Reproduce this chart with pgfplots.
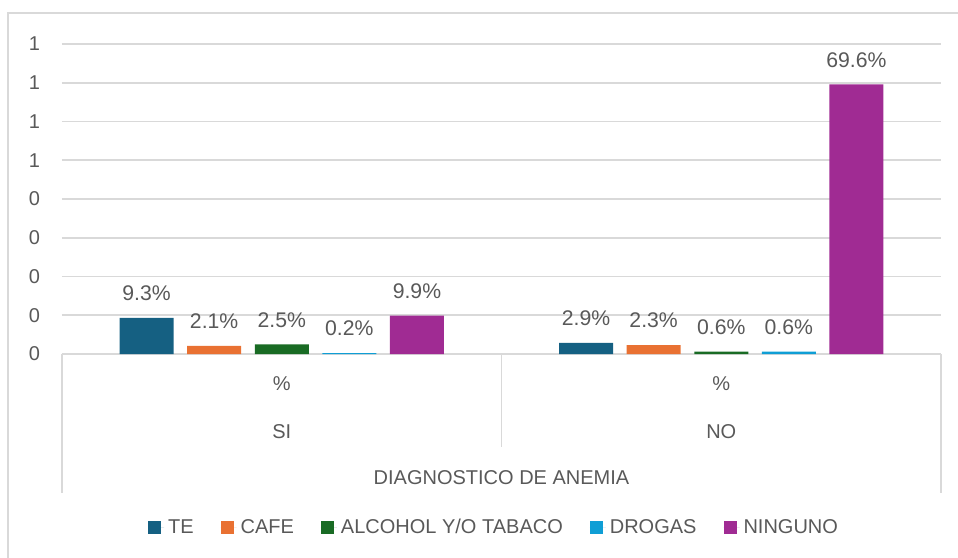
\documentclass[border=0pt]{standalone}
\usepackage{pgfplots}
\pgfplotsset{compat=1.18}
\usepackage{fontspec}
\setmainfont{Liberation Sans}
\definecolor{cTE}{HTML}{156082}
\definecolor{cCAFE}{HTML}{E97132}
\definecolor{cALC}{HTML}{196B24}
\definecolor{cDRO}{HTML}{0F9ED5}
\definecolor{cNIN}{HTML}{A02B93}
\definecolor{txtgray}{HTML}{595959}
\definecolor{gridgray}{HTML}{D9D9D9}
\begin{document}
\begin{tikzpicture}[font=\fontsize{10}{12}\selectfont, text=txtgray]
\useasboundingbox (0pt,0pt) rectangle (479pt,-278.5pt);
\draw[gridgray, line width=1pt] (4pt,-290pt) -- (4pt,-6.5pt) -- (490pt,-6.5pt);
\begin{axis}[
  at={(31pt,-177pt)}, anchor=south west,
  scale only axis, width=439.5pt, height=155pt,
  xmin=0, xmax=879, ymin=0, ymax=0.8,
  ytick={0,0.1,0.2,0.3,0.4,0.5,0.6,0.7,0.8},
  yticklabels={0,0,0,0,0,1,1,1,1},
  /pgf/number format/assume math mode=true,
  yticklabel style={anchor=east, xshift=-7.5pt, font=\fontsize{10}{12}\selectfont, text=txtgray},
  xtick=\empty,
  ymajorgrids, grid style={gridgray, line width=0.8pt},
  axis line style={draw=none}, major tick length=0pt,
  clip=false,
  ybar, bar width=54,
  point meta={y*100},
  nodes near coords={\pgfmathprintnumber[fixed,fixed zerofill,precision=1]{\pgfplotspointmeta}\%},
  every node near coord/.append style={font=\fontsize{10.6}{12}\selectfont, text=txtgray, yshift=5pt},
  every axis plot post/.append style={draw=none, bar shift=0pt,
     legend image code/.code={\fill[##1, draw=none] (0pt,-3.25pt) rectangle (6.5pt,3.25pt);
        \path (0pt,0pt) -- (8pt,0pt);}},
  legend style={at={(0.4926,-0.561)}, anchor=center, legend columns=-1, draw=none, fill=none,
     font=\fontsize{10}{12}\selectfont, text=txtgray,
     /tikz/every even column/.append style={column sep=11.5pt}},
]
\addplot[fill=cTE] coordinates {(84.55,0.093) (524.05,0.029)};
\addplot[fill=cCAFE] coordinates {(152.15,0.021) (591.65,0.023)};
\addplot[fill=cALC] coordinates {(219.75,0.025) (659.25,0.006)};
\addplot[fill=cDRO] coordinates {(287.35,0.002) (726.85,0.006)};
\addplot[fill=cNIN] coordinates {(354.95,0.099) (794.45,0.696)};
\legend{TE,CAFE,ALCOHOL Y/O TABACO,DROGAS,NINGUNO}
\draw[gridgray, line width=0.8pt] (axis cs:0,0) -- (axis cs:0,-0.3587);
\draw[gridgray, line width=0.8pt] (axis cs:439.5,0) -- (axis cs:439.5,-0.24);
\draw[gridgray, line width=0.8pt] (axis cs:879,0) -- (axis cs:879,-0.3587);
\node at (axis cs:219.75,-0.0774) {\%};
\node at (axis cs:659.25,-0.0774) {\%};
\node at (axis cs:219.75,-0.2013) {SI};
\node at (axis cs:659.25,-0.2013) {NO};
\node at (axis cs:439.5,-0.32) {DIAGNOSTICO DE ANEMIA};
\end{axis}
\end{tikzpicture}
\end{document}
